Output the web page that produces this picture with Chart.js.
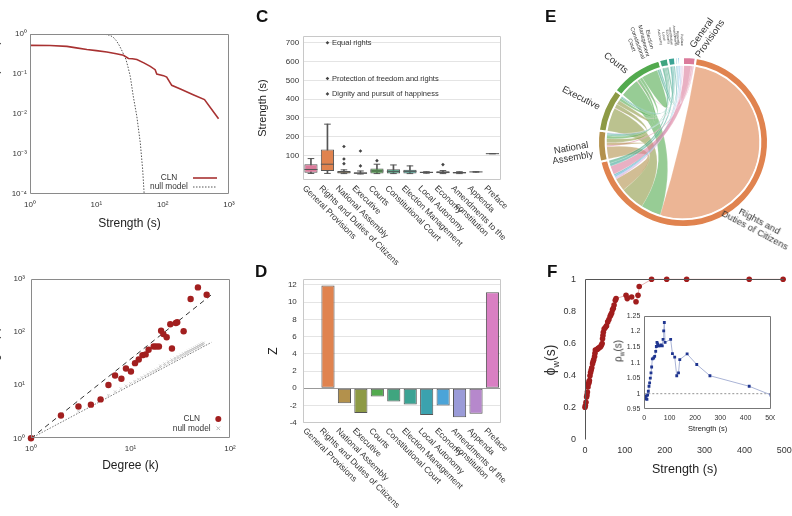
<!DOCTYPE html>
<html>
<head>
<meta charset="utf-8">
<script src="https://cdn.jsdelivr.net/npm/chart.js@4.4.1/dist/chart.umd.min.js"></script>
<style>
  body { margin: 0; background: #fff; font-family: "Liberation Sans", Arial, sans-serif; }
  #wrap { position: relative; width: 792px; height: 516px; overflow: hidden; }
  canvas { position: absolute; }
  .t { position: absolute; white-space: nowrap; color: #333; line-height: 1.1; text-align: center; }
  .letter { position: absolute; font-weight: bold; font-size: 17px; color: #111; }
  sub { font-size: 65%; }
</style>
</head>
<body>
<div id="wrap">
  <canvas id="cA" width="250" height="240" style="left:0;top:0"></canvas>
  <canvas id="cB" width="250" height="232" style="left:0;top:250px"></canvas>
  <canvas id="cC" width="260" height="272" style="left:250px;top:0"></canvas>
  <canvas id="cD" width="260" height="266" style="left:250px;top:250px"></canvas>
  <canvas id="cE" width="252" height="250" style="left:540px;top:0"></canvas>
  <canvas id="cF" width="252" height="240" style="left:540px;top:250px"></canvas>
  <canvas id="cF2" width="170" height="130" style="left:605px;top:306px"></canvas>

  <div class="letter" style="left:256px;top:7px">C</div>
  <div class="letter" style="left:255px;top:262px">D</div>
  <div class="letter" style="left:545px;top:7px">E</div>
  <div class="letter" style="left:547px;top:262px">F</div>

  <div class="t" style="left:-5px;top:62px;font-size:12px;transform:translate(-50%,-50%) rotate(-90deg)">P(S ≥ s)</div>
  <div class="t" style="left:-5px;top:358px;font-size:12px;transform:translate(-50%,-50%) rotate(-90deg)">Strength (s)</div>
  <div class="t" style="left:552px;top:360px;font-size:14px;transform:translate(-50%,-50%) rotate(-90deg)">ϕ<sub>w</sub>(s)</div>
  <div class="t" style="left:619px;top:351px;font-size:10px;transform:translate(-50%,-50%) rotate(-90deg)">ρ<sub>w</sub>(s)</div>

  <div class="t" style="left:706px;top:36px;font-size:9.5px;transform:translate(-50%,-50%) rotate(-55deg)">General<br>Provisions</div>
  <div class="t" style="left:616px;top:63px;font-size:9.5px;transform:translate(-50%,-50%) rotate(38deg)">Courts</div>
  <div class="t" style="left:581px;top:98px;font-size:9.5px;transform:translate(-50%,-50%) rotate(27deg)">Executive</div>
  <div class="t" style="left:572px;top:153px;font-size:9.5px;transform:translate(-50%,-50%) rotate(-10deg)">National<br>Assembly</div>
  <div class="t" style="left:757px;top:226px;font-size:9.5px;transform:translate(-50%,-50%) rotate(28deg)">Rights and<br>Duties of Citizens</div>
  <div class="t" style="left:635px;top:44px;font-size:5.5px;transform:translate(-50%,-50%) rotate(70deg)">Constitutional<br>Court</div>
  <div class="t" style="left:647px;top:40px;font-size:5.5px;transform:translate(-50%,-50%) rotate(76deg)">Election<br>Management</div>
  <div class="t" style="left:661px;top:37px;font-size:3.5px;transform:translate(-50%,-50%) rotate(80deg)">Local<br>Autonomy</div>
  <div class="t" style="left:667px;top:37px;font-size:3.5px;transform:translate(-50%,-50%) rotate(82deg)">Economy</div>
  <div class="t" style="left:672px;top:36px;font-size:3.5px;transform:translate(-50%,-50%) rotate(84deg)">Amendments<br>constitution</div>
  <div class="t" style="left:677px;top:38px;font-size:3.5px;transform:translate(-50%,-50%) rotate(86deg)">Appenda</div>
  <div class="t" style="left:681px;top:40px;font-size:3.5px;transform:translate(-50%,-50%) rotate(88deg)">Preface</div>
</div>

<script>
// ──────────────── 数据 ────────────────
const chapters = ['General Provisions', 'Rights and Duties of Citizens', 'National Assembly', 'Executive', 'Courts',
  'Constitutional Court', 'Election Management', 'Local Autonomy', 'Economy', 'Amendments to the constitution', 'Appenda', 'Preface'];
const chapterColors = ['#db7b9b', '#e0834f', '#b3914c', '#8d9a45', '#52aa4e', '#3fa57f',
  '#3ba394', '#3ba2ae', '#4ba4d8', '#9a9bd8', '#b688cc', '#d97fc3'];
const labelsC = ['General Provisions', 'Rights and Duties of Citizens', 'National Assembly', 'Executive', 'Courts',
  'Constitutional Court', 'Election Management', 'Local Autonomy', 'Economy', 'Amendments to the\nconstitution', 'Appenda', 'Preface'];
const labelsD = ['General Provisions', 'Rights and Duties of Citizens', 'National Assembly', 'Executive', 'Courts',
  'Constitutional Court', 'Election Management', 'Local Autonomy', 'Economy', 'Amendments of the\nconstitution', 'Appenda', 'Preface'];

// A: cumulative strength distribution
const strengthA = [1, 2, 3.6, 5, 7.2, 10, 14.4, 20, 25.6, 30.5, 35, 40.8, 52, 65, 77, 81.5, 103, 115, 137, 185, 294, 427, 696];
const cumCLN = [0.52, 0.515, 0.49, 0.45, 0.41, 0.385, 0.355, 0.32, 0.295, 0.245, 0.24, 0.23, 0.19, 0.155, 0.128, 0.10, 0.091, 0.084, 0.052, 0.042, 0.030, 0.023, 0.0076];
const strengthNull = [1, 5, 10, 14, 16, 18, 20, 22, 24, 26, 28, 30, 32.5, 36, 40.8, 46, 50, 52.6];
const cumNull = [1, 1, 0.995, 0.97, 0.93, 0.83, 0.68, 0.53, 0.40, 0.30, 0.23, 0.15, 0.087, 0.028, 0.0087, 0.0019, 0.0004, 0.0001];

// B: strength vs degree
const degreeCLN = [1, 2, 3, 4, 5, 6, 7, 8.1, 9, 10.1, 11.1, 12.1, 13.2, 14.2, 15.2, 17.1, 18.1, 19.3, 20.3, 21.4, 23.1, 25.1, 26.1, 28.6, 29.5, 34.2, 40.2, 47.6, 58.3];
const strengthCLN = [1, 2.68, 3.96, 4.3, 5.4, 10.1, 15.2, 13.2, 20.6, 18.1, 26, 30.5, 36.8, 38, 46.4, 53.7, 53.7, 53.7, 106, 91.6, 80, 141, 49, 148, 154, 104, 419, 695, 505];
const degreeNull = [3, 4, 5, 6, 7, 8, 9, 10, 11, 12, 13, 14, 15, 16, 17, 18, 19, 20, 22, 24, 26, 28, 30, 32, 34, 36, 38, 40, 42, 44, 46, 48, 50, 52, 54,
  20, 22, 24, 26, 28, 30, 32, 34, 36, 38, 40, 42, 44, 46, 48, 50, 52, 54];
const strengthNullB = [3.24, 4.32, 5.4, 6.48, 7.56, 8.64, 9.72, 10.8, 11.9, 13, 14, 15.1, 16.2, 17.3, 18.4, 19.4, 20.5, 21.6, 23.8, 25.9, 28.1, 30.2, 32.4, 34.6, 36.7, 38.9, 41, 43.2, 45.4, 47.5, 49.7, 51.8, 54, 56.2, 58.3,
  23.2, 25.5, 27.8, 30.2, 32.5, 34.8, 37.1, 39.4, 41.8, 44.1, 46.4, 48.7, 51, 53.4, 55.7, 58, 60.3, 62.6];
const fitLineK = [1, 65];
const fitLineS = [1, 505];
const nullLineK = [1, 65];
const nullLineS = [1, 64];

// C: box plot of strength per chapter
const boxMin = [5, 5, 4, 2, 4, 4, 4, 6, 4, 4, 12, 109.5];
const boxQ1 = [9, 18, 5, 3, 5, 5, 5, 7, 6, 5, 12, 109.5];
const boxMed = [26, 54, 12, 6, 18, 16, 16, 11, 11, 9, 13, 110];
const boxQ3 = [54, 132, 18, 11, 31, 27, 25, 13, 17, 12, 14, 110.5];
const boxMax = [84, 267, 24, 18, 54, 50, 45, 14, 20, 14, 14, 110.5];
const outlierCat = [1, 1, 1, 2, 2, 2, 3, 3, 4, 8];
const outlierVal = [700, 510, 428, 148, 82, 57, 124, 45, 73, 52];
const noteText = ['Equal rights', 'Protection of freedom and rights', 'Dignity and pursuit of happiness'];
const noteVal = [700, 510, 428];

// D: Z-scores
const zScores = [0, 11.95, -1.74, -2.87, -0.97, -1.55, -1.9, -3.1, -2.0, -3.37, -2.95, 11.16];

// E: chord links (chapter index pairs)
const linkFrom = [1, 4, 3, 2, 11, 10, 9, 8, 7, 0, 6, 5, 0, 0, 0, 2, 3, 4, 5, 6, 9, 3, 4, 5, 6, 4, 5, 6, 8];
const linkTo = [1, 1, 1, 1, 1, 1, 1, 1, 1, 1, 1, 1, 2, 3, 4, 2, 2, 2, 2, 2, 2, 3, 3, 3, 3, 4, 4, 4, 7];
const linkValue = [86, 14, 17, 9, 0.6, 0.5, 0.5, 1, 1, 6, 2, 2, 1, 0.5, 0.5, 1, 3, 2, 1, 1, 0.3, 1.5, 2, 1, 0.5, 6, 1.5, 1, 0.5];

// F: phi_w(s) and inset rho_w(s)
const phiS = [0, 1, 2.5, 4, 5, 6, 7.5, 9, 10, 11, 12.5, 14, 15.5, 17, 19, 20.5, 22, 24, 25, 26, 28, 31, 33, 36, 39, 41, 43, 44, 45, 46,
  48, 51, 54, 57, 60, 63, 65, 67, 69, 71, 73, 76, 78, 103, 106, 117, 128, 133, 136, 167, 205, 255, 412, 497];
const phiW = [0.204, 0.215, 0.235, 0.267, 0.28, 0.298, 0.33, 0.35, 0.36, 0.37, 0.40, 0.42, 0.435, 0.45, 0.475, 0.49, 0.50, 0.52, 0.54, 0.56,
  0.56, 0.565, 0.57, 0.575, 0.58, 0.59, 0.60, 0.63, 0.65, 0.67, 0.69, 0.70, 0.71, 0.735, 0.75, 0.77, 0.78, 0.79, 0.81, 0.82,
  0.84, 0.87, 0.88, 0.90, 0.88, 0.89, 0.86, 0.90, 0.955, 1, 1, 1, 1, 1];
const rhoS = [2.6, 5.3, 7.9, 10.5, 13, 15.8, 18.5, 21, 23.7, 26.4, 29, 31.7, 37, 41, 45, 47.5, 50, 52.8, 55.4, 60.7,
  66, 71, 74, 76.5, 79, 82, 104, 111, 120, 128, 135, 140, 169, 207, 259, 414, 500];
const rhoW = [0.987, 0.984, 0.993, 0.982, 0.996, 1.008, 1.024, 1.035, 1.05, 1.067, 1.086, 1.112, 1.115, 1.12, 1.136, 1.152, 1.165, 1.16, 1.154, 1.154,
  1.157, 1.154, 1.175, 1.202, 1.229, 1.165, 1.175, 1.129, 1.118, 1.058, 1.067, 1.11, 1.128, 1.094, 1.058, 1.024, 0.996];
const rhoBaseS = [0, 500];
const rhoBaseW = [1, 1];

// ──────────────── 工具 ────────────────
Chart.defaults.font.family = '"Liberation Sans", Arial, sans-serif';
Chart.defaults.color = '#333';

const pts = (xs, ys) => xs.map((x, i) => ({ x, y: ys[i] }));
const SUP = { '0': '⁰', '1': '¹', '2': '²', '3': '³', '4': '⁴', '-': '⁻' };
const powLabel = v => '10' + String(Math.round(Math.log10(v))).split('').map(c => SUP[c]).join('');
const powTicks = (a, b) => s => { s.ticks = []; for (let e = a; e <= b; e++) s.ticks.push({ value: Math.pow(10, e) }); };
const fitW = w => s => { s.width = w; s.paddingTop = 0; s.paddingBottom = 0; };
const fitH = h => s => { s.height = h; s.paddingLeft = 0; s.paddingRight = 0; };
const noGrid = { display: false, drawTicks: false };

function opts(o) {
  return Object.assign({ responsive: false, animation: false, devicePixelRatio: 1, events: [] }, o, {
    plugins: Object.assign({ legend: { display: false }, tooltip: { enabled: false } }, o.plugins || {})
  });
}

// 边框
const framePlugin = {
  id: 'frame',
  afterDatasetsDraw(chart, args, o) {
    if (!o.color) return;
    const { ctx, chartArea: c } = chart;
    const l = Math.round(c.left) + 0.5, r = Math.round(c.right) - 0.5, t = Math.round(c.top) + 0.5, b = Math.round(c.bottom) - 0.5;
    const sides = o.sides || 'tlbr';
    ctx.save();
    ctx.strokeStyle = o.color;
    ctx.lineWidth = 1;
    ctx.beginPath();
    if (sides.includes('t')) { ctx.moveTo(l, t); ctx.lineTo(r, t); }
    if (sides.includes('b')) { ctx.moveTo(l, b); ctx.lineTo(r, b); }
    if (sides.includes('l')) { ctx.moveTo(l, t); ctx.lineTo(l, b); }
    if (sides.includes('r')) { ctx.moveTo(r, t); ctx.lineTo(r, b); }
    ctx.stroke();
    ctx.restore();
  }
};

// 图例（右下角）
const miniLegend = {
  id: 'miniLegend',
  afterDraw(chart, args, o) {
    if (!o.items) return;
    const ctx = chart.ctx;
    ctx.save();
    ctx.font = o.font;
    ctx.textAlign = 'center';
    ctx.textBaseline = 'middle';
    o.items.forEach(it => {
      ctx.fillStyle = '#333';
      ctx.fillText(it.text, o.textX, it.y);
      ctx.strokeStyle = it.color;
      ctx.fillStyle = it.color;
      ctx.lineWidth = it.width || 1;
      ctx.setLineDash(it.dash ? [it.dash, it.dash] : []);
      ctx.beginPath();
      if (it.kind === 'line') { ctx.moveTo(o.markX - 12, it.y); ctx.lineTo(o.markX + 12, it.y); ctx.stroke(); }
      else if (it.kind === 'dot') { ctx.arc(o.markX, it.y, it.r, 0, Math.PI * 2); ctx.fill(); }
      else {
        const r = it.r;
        ctx.moveTo(o.markX - r, it.y - r); ctx.lineTo(o.markX + r, it.y + r);
        ctx.moveTo(o.markX + r, it.y - r); ctx.lineTo(o.markX - r, it.y + r);
        ctx.stroke();
      }
      ctx.setLineDash([]);
    });
    ctx.restore();
  }
};

// 斜向类别标签
const slantLabels = {
  id: 'slantLabels',
  afterDraw(chart, args, o) {
    if (!o.labels) return;
    const { ctx, chartArea } = chart;
    const xs = chart.scales.x;
    ctx.save();
    ctx.font = o.font;
    ctx.fillStyle = '#333';
    ctx.textBaseline = 'top';
    ctx.textAlign = 'center';
    for (let i = 0; i < o.labels.length; i++) {
      const lines = o.labels[i].split('\n');
      const w = Math.max(...lines.map(l => ctx.measureText(l).width));
      ctx.save();
      ctx.translate(xs.getPixelForTick(i) + o.dx, chartArea.bottom + o.dy);
      ctx.rotate(o.angle * Math.PI / 180);
      lines.forEach((l, j) => ctx.fillText(l, w / 2, j * o.lineHeight));
      ctx.restore();
    }
    ctx.restore();
  }
};

// 离群点注释
const notesPlugin = {
  id: 'notes',
  afterDraw(chart, args, o) {
    if (!o.texts) return;
    const { ctx, scales } = chart;
    ctx.save();
    ctx.font = o.font;
    ctx.fillStyle = '#333';
    ctx.textBaseline = 'middle';
    const x = scales.x.getPixelForTick(o.cat) + o.dx;
    for (let i = 0; i < o.texts.length; i++) ctx.fillText(o.texts[i], x, scales.y.getPixelForValue(o.values[i]));
    ctx.restore();
  }
};

// 弦图
const segEnds = chapters.map(() => []);
linkFrom.forEach((f, l) => { segEnds[f].push(l); segEnds[linkTo[l]].push(l); });
const chapterTotals = segEnds.map(ends => ends.reduce((a, l) => a + linkValue[l], 0));

const chordPlugin = {
  id: 'chords',
  beforeDatasetsDraw(chart, args, o) {
    if (!o.on) return;
    const arcs = chart.getDatasetMeta(0).data;
    const ctx = chart.ctx;
    const cx = arcs[0].x, cy = arcs[0].y, r = arcs[0].innerRadius - 0.5;
    const pos = linkValue.map(() => []);
    arcs.forEach((arc, i) => {
      const span = arc.endAngle - arc.startAngle;
      const pad = Math.min(o.pad, span * 0.2);
      const a0 = arc.startAngle + pad, a1 = arc.endAngle - pad;
      const k = (a1 - a0) / chapterTotals[i];
      let cur = a0;
      segEnds[i].forEach(l => { const w = linkValue[l] * k; pos[l].push([cur, cur + w]); cur += w; });
    });
    const P = a => [cx + r * Math.cos(a), cy + r * Math.sin(a)];
    ctx.save();
    linkValue.forEach((v, l) => {
      const [s, t] = pos[l];
      ctx.beginPath();
      ctx.moveTo(...P(s[0]));
      ctx.arc(cx, cy, r, s[0], s[1]);
      if (Math.abs(t[0] - s[1]) > 1e-6) ctx.quadraticCurveTo(cx, cy, ...P(t[0]));
      ctx.arc(cx, cy, r, t[0], t[1]);
      ctx.quadraticCurveTo(cx, cy, ...P(s[0]));
      ctx.closePath();
      ctx.globalAlpha = o.alpha;
      ctx.fillStyle = chapterColors[linkFrom[l]];
      ctx.fill();
      ctx.globalAlpha = 1;
      ctx.strokeStyle = 'rgba(255,255,255,0.45)';
      ctx.lineWidth = 0.4;
      ctx.stroke();
    });
    ctx.restore();
  }
};

Chart.register(framePlugin, miniLegend, slantLabels, notesPlugin, chordPlugin);

// ──────────────── A ────────────────
new Chart(document.getElementById('cA'), {
  type: 'scatter',
  data: { datasets: [
    { data: pts(strengthA, cumCLN), showLine: true, borderColor: '#a83232', borderWidth: 1.6, pointRadius: 0 },
    { data: pts(strengthNull, cumNull), showLine: true, borderColor: '#555', borderWidth: 1, borderDash: [1.5, 1.5], pointRadius: 0 }
  ] },
  options: opts({
    layout: { padding: { left: 0, right: 21, top: 34, bottom: 0 } },
    scales: {
      x: { type: 'logarithmic', min: 1, max: 1000, afterBuildTicks: powTicks(0, 3), afterFit: fitH(46),
        grid: noGrid, border: { display: false },
        ticks: { callback: powLabel, autoSkip: false, maxRotation: 0, font: { size: 8 }, padding: 6 },
        title: { display: true, text: 'Strength (s)', font: { size: 12 }, color: '#222', padding: { top: 0, bottom: 9 } } },
      y: { type: 'logarithmic', min: 1e-4, max: 1, afterBuildTicks: powTicks(-4, 0), afterFit: fitW(30),
        grid: noGrid, border: { display: false },
        ticks: { callback: powLabel, autoSkip: false, font: { size: 8 }, padding: 3 } }
    },
    plugins: {
      frame: { color: '#8a8a8a' },
      miniLegend: { font: '8.3px "Liberation Sans", Arial', textX: 169, markX: 205, items: [
        { text: 'CLN', y: 178, kind: 'line', color: '#a83232', width: 1.6 },
        { text: 'null model', y: 187, kind: 'line', color: '#555', dash: 1.5 }
      ] }
    }
  })
});

// ──────────────── B ────────────────
new Chart(document.getElementById('cB'), {
  type: 'scatter',
  data: { datasets: [
    { data: pts(fitLineK, fitLineS), showLine: true, borderColor: '#333', borderWidth: 1, borderDash: [5, 4], pointRadius: 0, order: 4 },
    { data: pts(nullLineK, nullLineS), showLine: true, borderColor: '#777', borderWidth: 1, borderDash: [1.5, 1.5], pointRadius: 0, order: 3 },
    { data: pts(degreeNull, strengthNullB), pointStyle: 'crossRot', pointRadius: 1.8, borderColor: 'rgba(185,185,185,0.8)', pointBorderWidth: 0.8, order: 2 },
    { data: pts(degreeCLN, strengthCLN), pointRadius: 3.2, backgroundColor: '#a21f1f', borderWidth: 0, clip: false, order: 1 }
  ] },
  options: opts({
    layout: { padding: { left: 0, right: 20, top: 29, bottom: 0 } },
    scales: {
      x: { type: 'logarithmic', min: 1, max: 100, afterBuildTicks: powTicks(0, 2), afterFit: fitH(43.7),
        grid: noGrid, border: { display: false },
        ticks: { callback: powLabel, autoSkip: false, maxRotation: 0, font: { size: 8 }, padding: 6 },
        title: { display: true, text: 'Degree (k)', font: { size: 12 }, color: '#222', padding: { top: 0, bottom: 9 } } },
      y: { type: 'logarithmic', min: 1, max: 1000, afterBuildTicks: powTicks(0, 3), afterFit: fitW(31),
        grid: noGrid, border: { display: false },
        ticks: { callback: powLabel, autoSkip: false, font: { size: 8 }, padding: 6 } }
    },
    plugins: {
      frame: { color: '#8a8a8a' },
      miniLegend: { font: '8.3px "Liberation Sans", Arial', textX: 191.7, markX: 218.3, items: [
        { text: 'CLN', y: 169, kind: 'dot', color: '#a21f1f', r: 3 },
        { text: 'null model', y: 178.3, kind: 'cross', color: '#bbb', r: 1.8 }
      ] }
    }
  })
});

// ──────────────── C ────────────────
new Chart(document.getElementById('cC'), {
  type: 'bar',
  data: {
    labels: chapters,
    datasets: [
      { data: boxMin.map((v, i) => [v, boxMax[i]]), backgroundColor: '#555', barThickness: 1, grouped: false, order: 3 },
      { data: boxQ1.map((v, i) => [v, boxQ3[i]]), backgroundColor: chapterColors, borderColor: '#555', borderWidth: 1,
        borderSkipped: false, barPercentage: 0.8, categoryPercentage: 1, grouped: false, order: 2 },
      { type: 'line', data: boxMed, showLine: false, pointStyle: 'line', pointRadius: 6.6, pointBorderColor: '#555', pointBorderWidth: 1, order: 1 },
      { type: 'line', data: boxMax, showLine: false, pointStyle: 'line', pointRadius: 3.3, pointBorderColor: '#555', pointBorderWidth: 1, order: 1 },
      { type: 'line', data: boxMin, showLine: false, pointStyle: 'line', pointRadius: 3.3, pointBorderColor: '#555', pointBorderWidth: 1, order: 1 },
      { type: 'line', data: outlierCat.map((c, i) => ({ x: chapters[c], y: outlierVal[i] })), showLine: false,
        pointStyle: 'rectRot', pointRadius: 1.8, pointBackgroundColor: '#444', pointBorderWidth: 0, order: 0 }
    ]
  },
  options: opts({
    layout: { padding: { left: 0, right: 9.3, top: 36, bottom: 0 } },
    scales: {
      x: { afterFit: fitH(92), grid: noGrid, border: { display: false }, ticks: { display: false } },
      y: { min: -30, max: 736, afterBuildTicks: s => { s.ticks = [100, 200, 300, 400, 500, 600, 700].map(v => ({ value: v })); },
        afterFit: fitW(52.7), grid: { color: '#e4e4e4', drawTicks: false }, border: { display: false },
        ticks: { font: { size: 8 }, padding: 3.5 },
        title: { display: true, text: 'Strength (s)', font: { size: 11 }, color: '#222', padding: { top: 6, bottom: 0 } } }
    },
    plugins: {
      frame: { color: '#c8c8c8' },
      slantLabels: { labels: labelsC, font: '8.5px "Liberation Sans", Arial', angle: 45, dx: -4, dy: 4, lineHeight: 9.5 },
      notes: { texts: noteText, values: noteVal, cat: 1, dx: 4.5, font: '7.5px "Liberation Sans", Arial' }
    }
  })
});

// ──────────────── D ────────────────
new Chart(document.getElementById('cD'), {
  type: 'bar',
  data: {
    labels: chapters,
    datasets: [{ data: zScores, backgroundColor: chapterColors, borderColor: '#555', borderWidth: 1, borderSkipped: false,
      barPercentage: 0.8, categoryPercentage: 1 }]
  },
  options: opts({
    layout: { padding: { left: 0, right: 9.3, top: 29.3, bottom: 0 } },
    scales: {
      x: { afterFit: fitH(93.3), grid: noGrid, border: { display: false }, ticks: { display: false } },
      y: { min: -4, max: 12.66, afterBuildTicks: s => { s.ticks = [-4, -2, 0, 2, 4, 6, 8, 10, 12].map(v => ({ value: v })); },
        afterFit: fitW(53.3), grid: { color: c => c.tick && c.tick.value === 0 ? '#999' : '#e4e4e4', drawTicks: false },
        border: { display: false }, ticks: { font: { size: 8 }, padding: 6.5 },
        title: { display: true, text: 'Z', font: { size: 12 }, color: '#222', padding: { top: 16, bottom: 0 } } }
    },
    plugins: {
      frame: { color: '#c8c8c8' },
      slantLabels: { labels: labelsD, font: '8.5px "Liberation Sans", Arial', angle: 45, dx: -4, dy: 4, lineHeight: 9.5 }
    }
  })
});

// ──────────────── E ────────────────
new Chart(document.getElementById('cE'), {
  type: 'doughnut',
  data: { labels: chapters, datasets: [{ data: chapterTotals, backgroundColor: chapterColors, borderColor: '#fff', borderWidth: 2, hoverOffset: 0 }] },
  options: opts({
    cutout: '91%',
    layout: { padding: { left: 57, right: 23, top: 56, bottom: 22 } },
    plugins: { chords: { on: true, pad: 0.012, alpha: 0.6 } }
  })
});

// ──────────────── F ────────────────
new Chart(document.getElementById('cF'), {
  type: 'scatter',
  data: { datasets: [
    { data: pts(phiS, phiW), showLine: true, borderColor: '#e8b3b3', borderWidth: 1, pointRadius: 2.8,
      pointBackgroundColor: '#a11d1d', pointBorderWidth: 0, clip: false }
  ] },
  options: opts({
    layout: { padding: { left: 0, right: 7.7, top: 29.3, bottom: 0 } },
    scales: {
      x: { min: 0, max: 500, afterFit: fitH(50), grid: noGrid, border: { display: false },
        ticks: { stepSize: 100, font: { size: 9 }, padding: 5.6 },
        title: { display: true, text: 'Strength (s)', font: { size: 12.5 }, color: '#222', padding: { top: 0, bottom: 13 } } },
      y: { min: 0, max: 1, afterFit: fitW(45), grid: noGrid, border: { display: false },
        ticks: { stepSize: 0.2, font: { size: 9 }, padding: 9, callback: v => String(+v.toFixed(1)) } }
    },
    plugins: { frame: { color: '#555', sides: 'tl' } }
  })
});

new Chart(document.getElementById('cF2'), {
  type: 'scatter',
  data: { datasets: [
    { data: pts(rhoBaseS, rhoBaseW), showLine: true, borderColor: '#777', borderWidth: 0.8, borderDash: [2, 2], pointRadius: 0, order: 2 },
    { data: pts(rhoS, rhoW), showLine: true, borderColor: '#aab4d6', borderWidth: 1, pointStyle: 'rect', pointRadius: 2,
      pointBackgroundColor: '#1f3590', pointBorderWidth: 0, order: 1 }
  ] },
  options: opts({
    layout: { padding: { left: 0, right: 2.7, top: 10, bottom: 0 } },
    scales: {
      x: { min: 0, max: 500, afterFit: fitH(26.7), grid: noGrid, border: { display: false },
        ticks: { stepSize: 100, font: { size: 7 }, padding: 4.2 },
        title: { display: true, text: 'Strength (s)', font: { size: 7.5 }, color: '#222', padding: { top: 0, bottom: 3 } } },
      y: { min: 0.95, max: 1.25, afterFit: fitW(39.3), grid: noGrid, border: { display: false },
        ticks: { stepSize: 0.05, font: { size: 7 }, padding: 4, callback: v => String(+v.toFixed(2)) } }
    },
    plugins: { frame: { color: '#777' } }
  })
});
</script>
</body>
</html>
